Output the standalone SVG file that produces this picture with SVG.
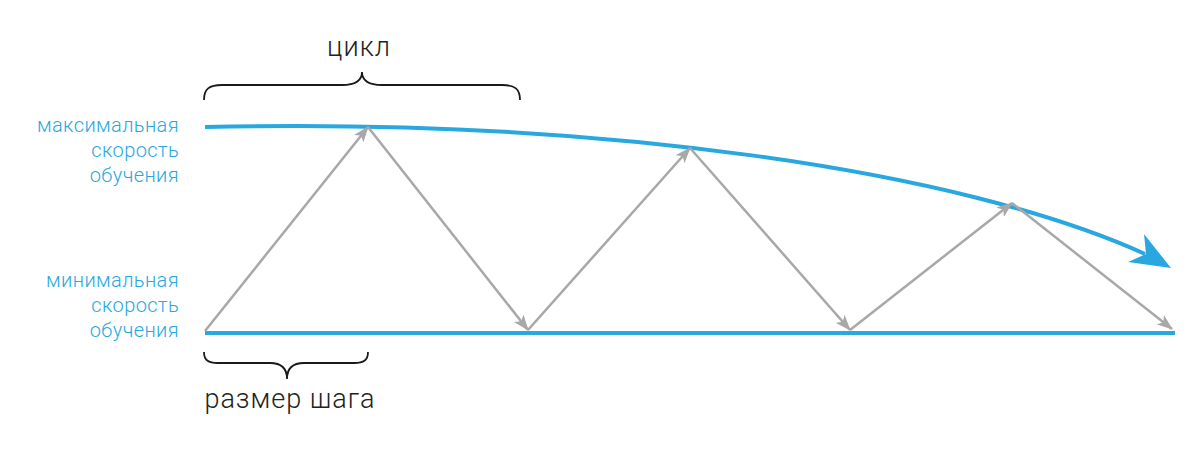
<svg xmlns="http://www.w3.org/2000/svg" width="1200" height="450" viewBox="0 0 1200 450">
<style>
.lbl{font-family:Roboto,"Liberation Sans",sans-serif;font-weight:300;font-size:20px;letter-spacing:0.4px;fill:#29a8e0;text-anchor:end}
.cap{font-family:Roboto,"Liberation Sans",sans-serif;font-weight:300;font-size:27px;letter-spacing:1px;fill:#222;text-anchor:middle}
.brace{fill:none;stroke:#1a1a1a;stroke-width:1.8}
.blue{fill:none;stroke:#29a8e0;stroke-width:4}
.gray{fill:none;stroke:#a8a8a8;stroke-width:2.5;marker-end:url(#ah)}
</style>
<defs>
<marker id="ah" viewBox="0 0 16 12" refX="15" refY="6" markerWidth="16" markerHeight="12" markerUnits="userSpaceOnUse" orient="auto">
<path d="M0,0 L16,6 L0,12 L4,6 z" fill="#a8a8a8"/>
</marker>
</defs>
<rect width="1200" height="450" fill="#fff"/>
<g id="label-max">
<text class="lbl" x="179" y="132">максимальная</text>
<text class="lbl" x="179" y="157">скорость</text>
<text class="lbl" x="179" y="182">обучения</text>
</g>
<g id="label-min">
<text class="lbl" x="179" y="287">минимальная</text>
<text class="lbl" x="179" y="312">скорость</text>
<text class="lbl" x="179" y="337">обучения</text>
</g>
<g id="cycle">
<path class="brace" d="M204,100 C204,89 209,85 222,85 L342,85 C355,85 362,81 362,72 C362,81 369,85 382,85 L502,85 C515,85 520,89 520,100"/>
<text class="cap" x="359" y="56">цикл</text>
</g>
<g id="step">
<path class="brace" d="M204,352 C204,360 208,363 218,363 L270,363 C281,363 287,368 287,379 C287,368 293,363 304,363 L354,363 C364,363 368,360 368,352"/>
<text class="cap" x="290" y="408">размер шага</text>
</g>
<g id="max-lr">
<path class="blue" d="M205,127 C600,118 960,170 1145,254"/>
<path d="M1171,268 L1144,234 L1146,254 L1128,262 z" fill="#29a8e0"/>
</g>
<g id="min-lr">
<line class="blue" x1="205" y1="333" x2="1175" y2="333"/>
</g>
<g id="connectors">
<line class="gray" x1="205" y1="331" x2="368" y2="127"/>
<line class="gray" x1="368" y1="127" x2="528" y2="330"/>
<line class="gray" x1="528" y1="330" x2="690" y2="148"/>
<line class="gray" x1="690" y1="148" x2="850" y2="330"/>
<line class="gray" x1="850" y1="330" x2="1012" y2="203"/>
<line class="gray" x1="1012" y1="203" x2="1172" y2="329"/>
</g>
</svg>
